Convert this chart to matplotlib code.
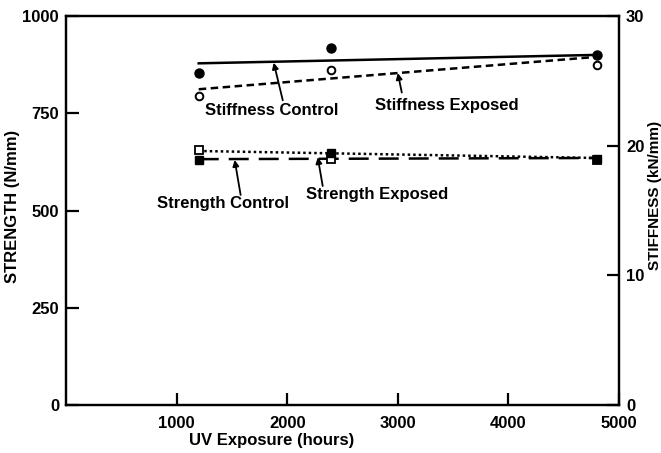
import matplotlib.pyplot as plt
from matplotlib import font_manager

# data
hours = [1200, 2400, 4800]
stiff_control = [25.6, 27.5, 27.0]
stiff_exposed = [23.8, 25.8, 26.2]
strength_control = [630, 648, 632]
strength_exposed = [655, 632, 630]

# end points of the fitted trend lines
fit_hours = [1200, 4800]
stiff_control_fit = [26.35, 27.0]
stiff_exposed_fit = [24.35, 26.85]
strength_control_fit = [632, 635]
strength_exposed_fit = [653, 635]

names = {f.name for f in font_manager.fontManager.ttflist}
narrow = 'Liberation Sans Narrow' if 'Liberation Sans Narrow' in names else 'Liberation Sans'

plt.rcParams['font.family'] = ['Liberation Sans', 'DejaVu Sans']
plt.rcParams['font.weight'] = 'bold'

fig = plt.figure(figsize=(6.61, 4.53), dpi=100)
ax = fig.add_axes([66 / 661, 1 - 405 / 453, (619 - 66) / 661, (405 - 16) / 453])
ax2 = ax.twinx()

ax.plot(hours, strength_exposed, 's', mfc='white', mec='black', mew=1.3, ms=5.5, zorder=3)
ax.plot(hours, strength_control, 's', color='black', ms=6, zorder=4)
ax.plot(fit_hours, strength_control_fit, color='black', lw=1.8, dashes=(8, 4))
ax.plot(fit_hours, strength_exposed_fit, color='black', lw=1.8, dashes=(1, 1.2))

ax2.plot(hours, stiff_control, 'o', color='black', ms=6.5, zorder=3)
ax2.plot(hours, stiff_exposed, 'o', mfc='white', mec='black', mew=1.4, ms=5.5, zorder=3)
ax2.plot(fit_hours, stiff_control_fit, color='black', lw=1.8)
ax2.plot(fit_hours, stiff_exposed_fit, color='black', lw=1.8, dashes=(3, 1.8))

ax.set_xlim(0, 5000)
ax.set_ylim(0, 1000)
ax2.set_ylim(0, 30)
ax.set_xticks([1000, 2000, 3000, 4000, 5000])
ax.set_yticks([0, 250, 500, 750, 1000])
ax2.set_yticks([0, 10, 20, 30])

for a in (ax, ax2):
    for s in a.spines.values():
        s.set_linewidth(1.6)
ax.tick_params(axis='both', direction='in', length=9, width=1.6, labelsize=12, pad=5)
ax.tick_params(axis='x', pad=8)
ax2.tick_params(axis='y', direction='in', length=9, width=1.6, labelsize=12, pad=5)

arrow = dict(arrowstyle='-|>', color='black', lw=1.3, mutation_scale=9, shrinkA=0, shrinkB=0)

ax2.text(1860, 22.75, 'Stiffness Control', ha='center', va='center', fontsize=12, fontweight='bold')
ax2.annotate('', xy=(1878, 26.4), xytext=(1960, 23.5), arrowprops=arrow)
ax2.text(3443, 23.06, 'Stiffness Exposed', ha='center', va='center', fontsize=12, fontweight='bold')
ax2.annotate('', xy=(3000, 25.6), xytext=(3036, 24.1), arrowprops=arrow)

ax.text(1416, 519, 'Strength Control', ha='center', va='center', fontsize=12, fontweight='bold')
ax.annotate('', xy=(1525, 630), xytext=(1579, 540), arrowprops=arrow)
ax.text(2810, 540, 'Strength Exposed', ha='center', va='center', fontsize=12, fontweight='bold')
ax.annotate('', xy=(2276, 637), xytext=(2321, 563), arrowprops=arrow)

fig.text(272 / 661, 1 - 440 / 453, 'UV Exposure (hours)', ha='center', va='center',
         fontsize=12, fontweight='bold', family=[narrow, 'DejaVu Sans'])
fig.text(13 / 661, 1 - 206 / 453, 'STRENGTH (N/mm)', rotation=90, ha='center', va='center',
         fontsize=12, fontweight='bold', family=[narrow, 'DejaVu Sans'])
fig.text(654.5 / 661, 1 - 195 / 453, 'STIFFNESS (kN/mm)', rotation=90, ha='center', va='center',
         fontsize=11, fontweight='bold', family=[narrow, 'DejaVu Sans'])

fig.savefig('out.png', dpi=100)
